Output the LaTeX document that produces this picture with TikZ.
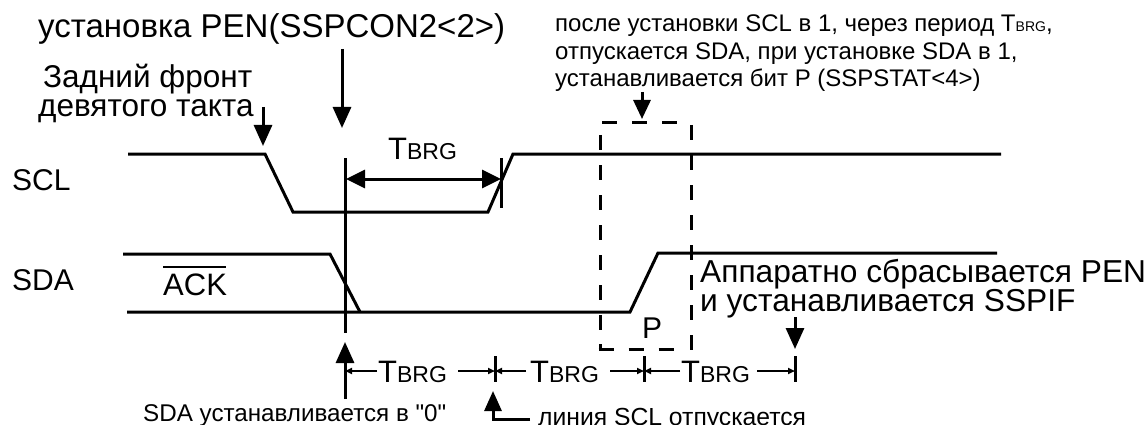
\documentclass[tikz,border=0pt]{standalone}
\usepackage{fontspec}
\setmainfont{Liberation Sans}
\newfontfamily\plainf{Liberation Sans}
\usetikzlibrary{arrows.meta}
\newcommand{\lbl}[1]{\fontsize{#1}{#1}\selectfont}
\newcommand{\tb}[2]{{\lbl{#1}T\lbl{#2}BRG}}
\tikzset{
  x=1pt,y=-1pt,
  txt/.style={inner sep=0pt,anchor=base west,text=black},
  sig/.style={line width=3pt,line join=miter,black},
  mark line/.style={line width=3pt,black},
  big arrow/.style={line width=3pt,black,-{Triangle[length=21pt,width=18pt]}},
  dim arrow/.style={line width=3pt,black,{Triangle[length=19pt,width=18pt]}-{Triangle[length=19pt,width=18pt]}},
  tiny arrow/.style={line width=2.5pt,black,-{Triangle[length=7pt,width=6pt]}},
  dash box/.style={line width=3pt,black,dash pattern=on 15pt off 15pt},
}
\begin{document}
\begin{tikzpicture}
\useasboundingbox (0,0) rectangle (1148,425);
% texts
\node[txt] (pen) at (38,38) {\lbl{33}установка PEN(SSPCON2<2>)};
\node[txt] (zf1) at (43,88) {\lbl{31.5}Задний фронт};
\node[txt] (zf2) at (38,117) {\lbl{31.5}девятого такта};
\node[txt] (scl) at (12,190) {\lbl{30}SCL};
\node[txt] (sda) at (12,290) {\lbl{30}SDA};
\node[txt] (ack) at (163,295) {\lbl{31}ACK};
\node[txt] (tt) at (388,160) {\tb{31}{23}};
\node[txt] (note1) at (555,32) {\lbl{24}после установки SCL в 1, через период T\lbl{14}BRG\lbl{24},};
\node[txt] (note2) at (555,60) {\lbl{24}отпускается SDA, при установке SDA в 1,};
\node[txt] (note3) at (555,87) {\lbl{24}устанавливается бит P (SSPSTAT<4>)};
\node[txt] (hw1) at (700,282) {\lbl{31.7}Аппаратно сбрасывается PEN};
\node[txt] (hw2) at (700,311) {\lbl{31.7}и устанавливается SSPIF};
\node[txt] (pp) at (642,338) {\lbl{30}P};
\node[txt] (t1) at (378,382) {\tb{31}{23}};
\node[txt] (t2) at (530,382) {\tb{31}{23}};
\node[txt] (t3) at (681,382) {\tb{31}{23}};
\node[txt] (sda0) at (143,421) {\plainf\lbl{24.2}SDA устанавливается в "0"};
\node[txt] (line) at (538,425) {\lbl{24.7}линия SCL отпускается};
% signals
\draw[sig] (128,154) -- (265,154) -- (293,212) -- (488,212) -- (513,154) -- (1001,154);
\draw[sig] (123,254) -- (330,254) -- (360,312);
\draw[sig] (127,312) -- (630,312) -- (658,253) -- (997,253);
\draw[line width=1.5pt] (163,267) -- (226,267);
% markers
\coordinate (m0t) at (345,158); \coordinate (m0b) at (345,333);
\coordinate (m1t) at (501,158); \coordinate (m1b) at (501,208);
\draw[mark line] (m0t) -- (m0b);
\draw[mark line] (m1t) -- (m1b);
\coordinate (d0) at (346,179); \coordinate (d1) at (501,179);
\draw[dim arrow] (d0) -- (d1);
% arrows down
\coordinate (pa) at (342,49); \coordinate (pb) at (342,128);
\draw[big arrow] (pa) -- (pb);
\coordinate (za) at (263,107); \coordinate (zb) at (263,146);
\draw[big arrow] (za) -- (zb);
\coordinate (na) at (642,92); \coordinate (nb) at (642,119);
\draw[line width=3pt,-{Triangle[length=19pt,width=17pt]}] (na) -- (nb);
\coordinate (ha) at (795,317); \coordinate (hb) at (795,349);
\draw[big arrow] (ha) -- (hb);
% dashed box
\coordinate (bt0) at (602,123); \coordinate (bt1) at (678,123);
\coordinate (br0) at (691,125); \coordinate (br1) at (691,350);
\coordinate (bl0) at (600,135); \coordinate (bl1) at (600,331);
\coordinate (bb0) at (598.5,349); \coordinate (bb1) at (676,349);
\draw[dash box] (bt0) -- (bt1);
\draw[dash box] (br0) -- (br1);
\draw[dash box] (bl0) -- (bl1);
\draw[dash box] (bb0) -- (bb1);
\draw[line width=3pt] (600,344) -- (600,349);
% bottom row
\coordinate (u0a) at (345,399); \coordinate (u0b) at (345,342);
\draw[big arrow] (u0a) -- (u0b);
\coordinate (n0) at (345,371);
\coordinate (n1) at (495,371);\coordinate (n2) at (644,371);\coordinate (n3) at (795,371);
\coordinate (e0) at (377,371);\coordinate (e1) at (458,371);\coordinate (e2) at (526,371);
\coordinate (e3) at (610,371);\coordinate (e4) at (680,371);\coordinate (e5) at (757,371);
\draw[tiny arrow] (e0) -- (n0);
\draw[tiny arrow] (e1) -- (n1);
\draw[tiny arrow] (e2) -- (n1);
\draw[tiny arrow] (e3) -- (n2);
\draw[tiny arrow] (e4) -- (n2);
\draw[tiny arrow] (e5) -- (n3);
\foreach \c in {495,644,795} {\draw[mark line] (\c,356) -- (\c,382);}
\coordinate (la) at (530,419); \coordinate (lb) at (493,419); \coordinate (lc) at (493,391);
\draw[line width=3pt,-{Triangle[length=20pt,width=17pt]}] (la) -- (lb) -- (lc);
\end{tikzpicture}
\end{document}
